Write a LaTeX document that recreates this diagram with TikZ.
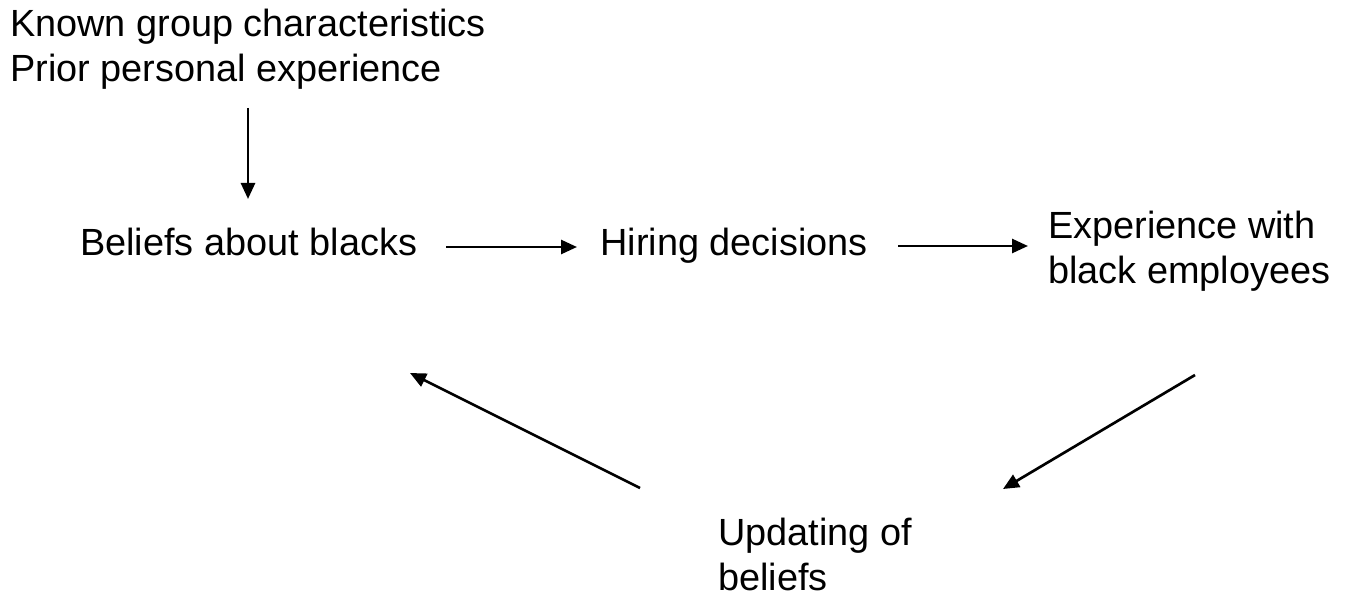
\documentclass[tikz,border=0pt]{standalone}
\usepackage{fontspec}
\setmainfont{Liberation Sans}
\usetikzlibrary{arrows.meta}
\begin{document}
\begin{tikzpicture}[x=0.75pt,y=-0.75pt,
  lbl/.style={anchor=west,align=left,inner sep=0pt,font=\fontsize{28.4}{33.75}\selectfont},
  conn/.style={line width=2pt,-{Triangle[length=12pt,width=10.5pt]}}]
\useasboundingbox (0,0) rectangle (1355,598);
\node[lbl] (known) at (10,49.5) {Known group characteristics\\Prior personal experience};
\node[lbl,anchor=base west] (beliefs) at (80,255.5) {Beliefs about blacks};
\node[lbl,anchor=base west] (hiring) at (600,255.5) {Hiring decisions};
\node[lbl] (exper) at (1048,251.5) {Experience with\\black employees};
\node[lbl] (upd) at (718,554.5) {Updating of\\beliefs};
\coordinate (a1s) at (248,108); \coordinate (a1e) at (248,199);
\coordinate (a2s) at (446,247); \coordinate (a2e) at (577,247);
\coordinate (a3s) at (898,246); \coordinate (a3e) at (1028,246);
\coordinate (a4s) at (1195,375); \coordinate (a4e) at (1003,489);
\coordinate (a5s) at (640,488); \coordinate (a5e) at (410,373);
\draw[conn] (a1s) -- (a1e);
\draw[conn] (a2s) -- (a2e);
\draw[conn] (a3s) -- (a3e);
\draw[conn] (a4s) -- (a4e);
\draw[conn] (a5s) -- (a5e);
\end{tikzpicture}
\end{document}
